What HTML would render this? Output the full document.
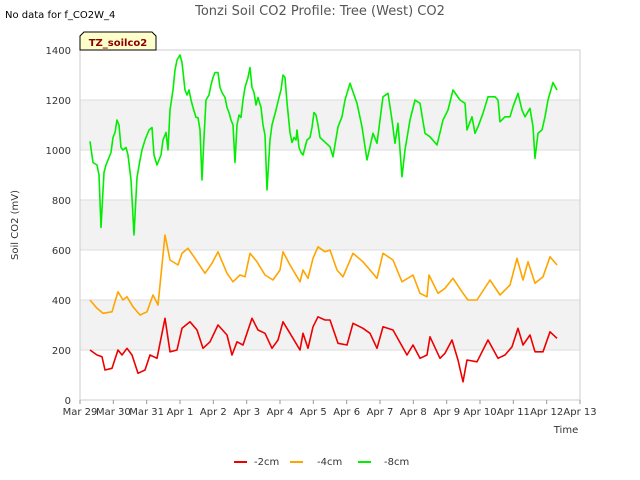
<!DOCTYPE html>
<html><head><meta charset="utf-8"><style>
body{margin:0;background:#fff;}
svg{display:block;font-family:"DejaVu Sans","Liberation Sans",sans-serif;}
</style></head><body>
<svg id="chart" width="640" height="480" viewBox="0 0 640 480">
<text x="5" y="18" font-size="10" fill="#000">No data for f_CO2W_4</text>
<text x="320" y="15" font-size="13" fill="#555" text-anchor="middle">Tonzi Soil CO2 Profile: Tree (West) CO2</text>
<g id="bands"></g>
<g id="grid"></g>
<rect x="80" y="50" width="500" height="350" fill="none" stroke="#ccc"/>
<g id="yticks"></g>
<g id="xticks"></g>
<g id="series"></g>
<text transform="translate(18,225) rotate(-90)" font-size="10" fill="#333" text-anchor="middle">Soil CO2 (mV)</text>
<text x="566" y="433" font-size="10" fill="#333" text-anchor="middle">Time</text>
<g>
<path d="M80,50 L80,36 L84,32 L152,32 L156,36 L156,50 Z" fill="#ffffcc" stroke="#000" stroke-width="1"/>
<text x="118" y="46" font-size="10" font-weight="bold" fill="#8b0000" text-anchor="middle">TZ_soilco2</text>
</g>
<g>
<g><line x1="234" y1="462" x2="247" y2="462" stroke="#ee0000" stroke-width="2"/><text x="254" y="465" font-size="10" fill="#333">-2cm</text></g>
<g><line x1="290" y1="462" x2="303" y2="462" stroke="#ffa500" stroke-width="2"/><text x="317" y="465" font-size="10" fill="#333">-4cm</text></g>
<g><line x1="358" y1="462" x2="371" y2="462" stroke="#00ee00" stroke-width="2"/><text x="384" y="465" font-size="10" fill="#333">-8cm</text></g>
</g>
</svg>
<script>
const xTickLabels=["Mar 29","Mar 30","Mar 31","Apr 1","Apr 2","Apr 3","Apr 4","Apr 5","Apr 6","Apr 7","Apr 8","Apr 9","Apr 10","Apr 11","Apr 12","Apr 13"];
const yTicks=[0,200,400,600,800,1000,1200,1400];
const t8=[0.30,0.39,0.51,0.57,0.63,0.72,0.78,0.84,0.93,0.99,1.05,1.11,1.17,1.23,1.29,1.38,1.44,1.53,1.62,1.71,1.80,1.86,1.95,2.01,2.07,2.16,2.22,2.31,2.37,2.43,2.49,2.58,2.64,2.70,2.79,2.85,2.91,3.00,3.06,3.15,3.21,3.27,3.33,3.39,3.48,3.54,3.60,3.66,3.72,3.78,3.87,3.93,3.99,4.05,4.14,4.20,4.26,4.35,4.41,4.47,4.53,4.59,4.65,4.71,4.77,4.83,4.89,4.95,5.04,5.10,5.16,5.22,5.28,5.34,5.43,5.49,5.55,5.61,5.70,5.76,5.82,5.88,5.97,6.03,6.09,6.15,6.21,6.30,6.36,6.42,6.48,6.51,6.57,6.63,6.69,6.75,6.81,6.90,6.96,7.02,7.08,7.14,7.20,7.50,7.59,7.74,7.86,7.95,8.10,8.31,8.46,8.61,8.79,8.91,9.00,9.09,9.24,9.36,9.45,9.54,9.66,9.75,9.90,10.05,10.20,10.35,10.50,10.71,10.89,11.04,11.19,11.40,11.55,11.61,11.76,11.85,11.94,12.09,12.24,12.45,12.54,12.60,12.75,12.90,12.99,13.14,13.26,13.35,13.50,13.59,13.65,13.74,13.86,13.95,14.04,14.19,14.31];
const v8=[1035,950,940,900,690,910,940,960,990,1050,1070,1120,1100,1010,1000,1010,980,880,660,890,960,1000,1040,1060,1080,1090,980,940,960,980,1040,1070,1000,1160,1240,1320,1360,1380,1350,1240,1220,1240,1200,1170,1130,1130,1080,880,1050,1200,1220,1260,1290,1310,1310,1250,1230,1210,1170,1150,1120,1100,950,1100,1140,1130,1200,1250,1290,1330,1250,1230,1180,1210,1170,1100,1060,840,1040,1100,1130,1160,1210,1240,1300,1290,1190,1070,1030,1050,1040,1080,1010,990,980,1010,1040,1050,1090,1150,1140,1100,1050,1013,973,1093,1133,1200,1267,1187,1093,960,1067,1027,1120,1213,1227,1120,1027,1107,893,1000,1120,1200,1187,1067,1053,1020,1120,1160,1240,1200,1187,1080,1133,1067,1093,1147,1213,1213,1200,1113,1133,1133,1173,1227,1160,1133,1167,1093,967,1067,1080,1133,1200,1270,1240];
const t4=[0.30,0.51,0.69,0.96,1.14,1.29,1.41,1.59,1.80,2.01,2.19,2.34,2.55,2.70,2.94,3.06,3.24,3.45,3.75,3.96,4.14,4.41,4.59,4.80,4.95,5.10,5.31,5.55,5.79,6.00,6.09,6.30,6.60,6.69,6.84,6.99,7.14,7.35,7.50,7.71,7.89,8.19,8.49,8.70,8.91,9.09,9.39,9.66,9.99,10.20,10.41,10.47,10.74,10.95,11.19,11.46,11.64,11.91,12.30,12.60,12.90,13.11,13.29,13.44,13.65,13.89,14.10,14.31];
const v4=[400,367,347,353,433,400,413,373,340,353,420,380,660,560,540,587,607,567,507,547,593,507,473,500,493,587,553,500,480,520,593,540,473,520,487,567,613,593,600,520,493,587,553,520,487,587,560,473,500,427,413,500,427,447,487,433,400,400,480,420,460,567,480,553,467,493,573,540];
const t2=[0.30,0.51,0.66,0.75,0.96,1.14,1.26,1.41,1.56,1.74,1.95,2.10,2.31,2.55,2.70,2.91,3.06,3.30,3.51,3.69,3.90,4.14,4.41,4.56,4.71,4.89,5.16,5.34,5.55,5.76,5.94,6.09,6.30,6.60,6.69,6.84,6.99,7.14,7.35,7.50,7.74,8.01,8.19,8.49,8.70,8.91,9.09,9.39,9.81,9.99,10.20,10.41,10.50,10.80,10.95,11.16,11.34,11.49,11.61,11.91,12.24,12.54,12.75,12.96,13.14,13.29,13.50,13.65,13.89,14.10,14.31];
const v2=[200,180,173,120,127,200,180,207,180,107,120,180,167,327,193,200,287,313,280,207,233,300,260,180,233,220,327,280,267,207,240,313,267,200,267,207,293,333,320,320,227,220,307,287,267,207,293,280,180,220,167,180,253,167,187,240,160,73,160,153,240,167,180,213,287,220,260,193,193,273,247];
const NS='http://www.w3.org/2000/svg';
const X=d=>80+d*500/15, Y=v=>400-v*350/1400;
function mk(tag,attrs,parent){const e=document.createElementNS(NS,tag);for(const k in attrs)e.setAttribute(k,attrs[k]);parent.appendChild(e);return e;}
const bands=document.getElementById('bands'),grid=document.getElementById('grid'),yg=document.getElementById('yticks'),xg=document.getElementById('xticks'),sg=document.getElementById('series');
[[200,400],[600,800],[1000,1200]].forEach(b=>{const r=mk('rect',{x:80,y:Y(b[1]),width:500,height:Y(b[0])-Y(b[1]),fill:'#f2f2f2'},bands);

});
yTicks.forEach(v=>{const l=mk('line',{x1:80,x2:580,y1:Y(v),y2:Y(v),stroke:'#ddd'},grid);


const t=mk('text',{x:71,y:Y(v)+4,'font-size':10,fill:'#333','text-anchor':'end'},yg);t.textContent=v;

});
xTickLabels.forEach((s,i)=>{mk('line',{x1:X(i),x2:X(i),y1:400,y2:404,stroke:'#999'},xg);
const t=mk('text',{x:X(i),y:415,'font-size':10,fill:'#333','text-anchor':'middle'},xg);t.textContent=s;

});
[[t2,v2,'#ee0000','series-2cm'],[t4,v4,'#ffa500','series-4cm'],[t8,v8,'#00ee00','series-8cm']].forEach(s=>{
const d=s[0].map((t,i)=>(i?'L':'M')+X(t).toFixed(1)+','+Y(s[1][i]).toFixed(1)).join('');
const p=mk('path',{d:d,fill:'none',stroke:s[2],'stroke-width':1.6,'stroke-linejoin':'round'},sg);

});
</script>
</body></html>
